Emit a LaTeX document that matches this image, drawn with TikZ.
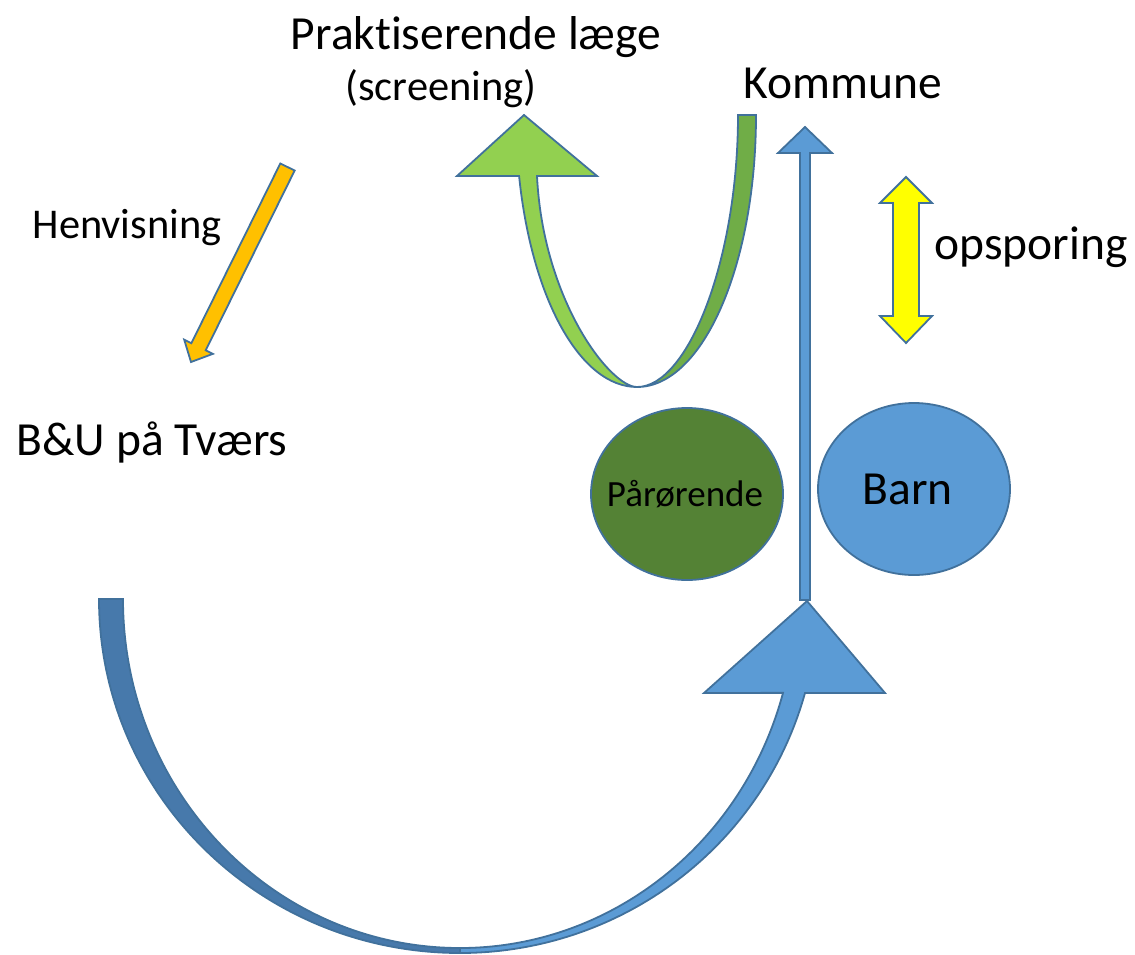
\documentclass[tikz,border=0pt]{standalone}
\usepackage{fontspec}
\setmainfont{Carlito}[Ligatures=NoCommon]
\usepackage{tikz}
\usetikzlibrary{calc,shapes.geometric}
\definecolor{outl}{HTML}{41719C}
\definecolor{barnblue}{HTML}{5B9BD5}
\definecolor{backblue}{HTML}{4779AB}
\definecolor{parkgreen}{HTML}{548235}
\definecolor{lightgreen}{HTML}{92D050}
\definecolor{darkgreen}{HTML}{70AD47}
\definecolor{henvorange}{HTML}{FFC000}
\definecolor{opsyellow}{HTML}{FFFF00}
\newcommand{\bigtxt}{\fontsize{47.5}{54}\selectfont}
\newcommand{\midtxt}{\fontsize{42.4}{48}\selectfont}
\newcommand{\smalltxt}{\fontsize{37}{42}\selectfont}

\begin{document}
\begin{tikzpicture}[x=1pt, y=-1pt]
  \useasboundingbox (0,0) rectangle (1135,954);
  \tikzset{blk/.style={draw=outl, line width=1.8, line join=miter}}

  \node[anchor=base, font=\bigtxt]
    (laege) at (476, 49) {Praktiserende læge};

  \node[anchor=base, font=\midtxt]
    (screen) at (441, 100) {(screening)};

  \node[anchor=base, font=\bigtxt]
    (kommune) at (843, 98) {Kommune};

  \node[anchor=base, font=\midtxt]
    (henv) at (127, 238) {Henvisning};

  \node[anchor=base, font=\bigtxt]
    (ops) at (1031, 259) {opsporing};

  \node[anchor=base, font=\bigtxt]
    (bu) at (152, 455) {B\&U på Tværs};

  \node[ellipse, blk, fill=parkgreen, minimum width=192, minimum height=172,
        inner sep=0, font=\smalltxt]
    (paar) at (687, 494) {\makebox[0pt]{Pårørende\hspace{4pt}}};

  \node[ellipse, blk, fill=barnblue, minimum width=192, minimum height=172,
        inner sep=0, font=\bigtxt]
    (barn) at (914, 489) {\makebox[0pt]{\raisebox{-4pt}{Barn}\hspace{13pt}}};

  \coordinate (h1) at (287.5, 167);
  \coordinate (h2) at (191, 362);
  \coordinate (h3) at ($(h2)!17pt!(h1)$);

  % henvisning
  \filldraw[blk, fill=henvorange]
    ($(h1)!8pt!90:(h2)$) -- ($(h3)!8pt!90:(h2)$) -- ($(h3)!16pt!90:(h2)$)
    -- (h2) -- ($(h3)!16pt!-90:(h2)$) -- ($(h3)!8pt!-90:(h2)$)
    -- ($(h1)!8pt!-90:(h2)$) -- cycle;

  \filldraw[blk, fill=opsyellow]
    (906,177) -- (932,203) -- (919,203) -- (919,316) -- (932,316) -- (906,343)
    -- (880,316) -- (893,316) -- (893,203) -- (880,203) -- cycle;

  \filldraw[blk, fill=barnblue]
    (805,127) -- (832,153) -- (810,153) -- (810,600) -- (800,600)
    -- (800,153) -- (778,153) -- cycle;

  % green u-turn
  \filldraw[blk, fill=darkgreen]
    (756,115) arc[start angle=0, end angle=90, x radius=119, y radius=272]
    .. controls (688,387) and (738,260) .. (738,115) -- cycle;

  \filldraw[blk, fill=lightgreen]
    (457,176) -- (524,115) -- (597,176) -- (537,176)
    .. controls (543,300) and (610,387) .. (637,387)
    arc[start angle=90, end angle=167.04, x radius=121, y radius=272] -- cycle;

  % big blue curve
  \filldraw[blk, fill=backblue]
    (99,599) arc[start angle=180, end angle=90, x radius=361, y radius=354]
    -- (460,948)
    arc[start angle=90, end angle=180, x radius=337, y radius=349] -- cycle;

  \filldraw[blk, fill=barnblue]
    (704,693) -- (807,601) -- (885,693) -- (805,693)
    arc[start angle=15.4, end angle=90, x radius=358, y radius=354]
    -- (460,948)
    arc[start angle=90, end angle=15.6, x radius=335.4, y radius=349] -- cycle;
\end{tikzpicture}
\end{document}
